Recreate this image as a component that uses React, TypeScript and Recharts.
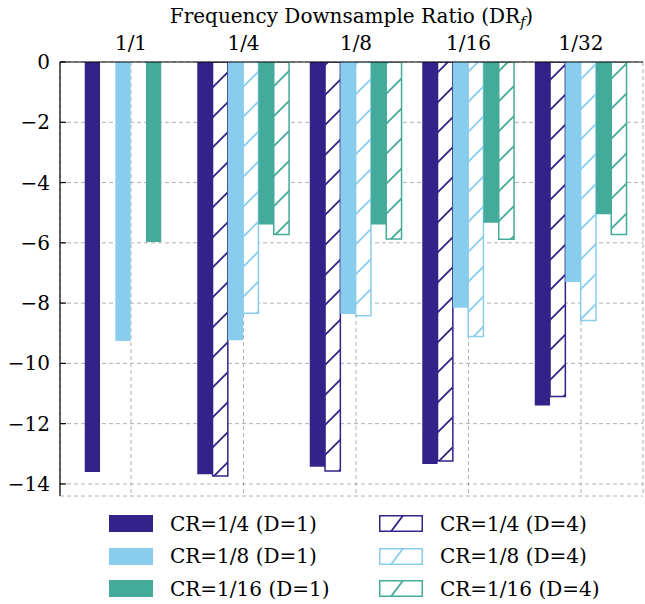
import { BarChart, Bar, XAxis, YAxis, CartesianGrid } from 'recharts'

const categories = ['1/1', '1/4', '1/8', '1/16', '1/32']

// values (negative, bars hang from 0)
const cr4D1 = [-13.6, -13.68, -13.43, -13.34, -11.4]
const cr4D4 = [null, -13.74, -13.57, -13.24, -11.1]
const cr8D1 = [-9.26, -9.23, -8.36, -8.15, -7.3]
const cr8D4 = [null, -8.34, -8.42, -9.11, -8.58]
const cr16D1 = [-5.97, -5.39, -5.39, -5.33, -5.05]
const cr16D4 = [null, -5.72, -5.87, -5.88, -5.72]

const yTicks = [0, -2, -4, -6, -8, -10, -12, -14]
const yMinorTicks = [
  0, -0.5, -1, -1.5, -2, -2.5, -3, -3.5, -4, -4.5, -5, -5.5, -6, -6.5, -7, -7.5,
  -8, -8.5, -9, -9.5, -10, -10.5, -11, -11.5, -12, -12.5, -13, -13.5, -14,
]

const series = [
  { key: 'cr4d1', name: 'CR=1/4 (D=1)', color: '#332288', hatched: false, values: cr4D1 },
  { key: 'cr4d4', name: 'CR=1/4 (D=4)', color: '#332288', hatched: true, values: cr4D4 },
  { key: 'cr8d1', name: 'CR=1/8 (D=1)', color: '#88CCEE', hatched: false, values: cr8D1 },
  { key: 'cr8d4', name: 'CR=1/8 (D=4)', color: '#88CCEE', hatched: true, values: cr8D4 },
  { key: 'cr16d1', name: 'CR=1/16 (D=1)', color: '#44AA99', hatched: false, values: cr16D1 },
  { key: 'cr16d4', name: 'CR=1/16 (D=4)', color: '#44AA99', hatched: true, values: cr16D4 },
]

const data = categories.map((category, i) => {
  const row: Record<string, string | number | null> = { category }
  series.forEach((s) => {
    row[s.key] = s.values[i]
  })
  return row
})

const FONT = '"DejaVu Serif", serif'
const FS = 20

const fmt = (v: number) => (v === 0 ? '0' : `\u2212${Math.abs(v)}`)

const TitleLabel = (props: any) => {
  const vb = props.viewBox || {}
  const cx = vb.x + vb.width / 2
  return (
    <text x={cx} y={23} textAnchor="middle" fontFamily={FONT} fontSize={FS} fill="#000">
      Frequency Downsample Ratio (DR
      <tspan fontStyle="italic" fontSize={14} dy={4}>f</tspan>
      <tspan dy={-4}>)</tspan>
    </text>
  )
}

function LegendSwatch({ color, hatched }: { color: string; hatched: boolean }) {
  return (
    <svg width={44} height={17} style={{ display: 'block', flex: 'none' }}>
      {hatched ? (
        <g>
          <rect x={0.75} y={0.75} width={42.5} height={15.5} fill="#fff" stroke={color} strokeWidth={1.5} />
          <line x1={12} y1={16.5} x2={24} y2={0.5} stroke={color} strokeWidth={1.8} />
        </g>
      ) : (
        <rect x={0} y={0} width={44} height={17} fill={color} />
      )}
    </svg>
  )
}

export default function App() {
  return (
    <div style={{ position: 'absolute', left: 0, top: 0, width: 645, height: 604, overflow: 'hidden', background: '#fff' }}>
      <BarChart
        width={645}
        height={500}
        data={data}
        margin={{ top: 0, right: 2, bottom: 4, left: 0 }}
        barGap={0}
        barSize={15.3}
      >
        <defs>
          {series
            .filter((s) => s.hatched)
            .map((s) => (
              <pattern key={s.key} id={`hatch-${s.key}`} patternUnits="userSpaceOnUse" width={30} height={30}>
                <rect width={30} height={30} fill="#fff" />
                <path d="M-5,5 L5,-5 M0,30 L30,0 M25,35 L35,25" stroke={s.color} strokeWidth={1.8} />
              </pattern>
            ))}
        </defs>
        <CartesianGrid xAxisId="top" yAxisId="main" stroke="#b0b0b0" strokeDasharray="4 3" />
        <XAxis
          xAxisId="top"
          orientation="top"
          dataKey="category"
          height={62}
          padding={{ left: 14.75, right: 5.75 }}
          tickLine={false}
          tickSize={0}
          tickMargin={12}
          axisLine={{ stroke: '#000', strokeWidth: 1.2 }}
          tick={{ fill: '#000', fontSize: FS, fontFamily: FONT }}
          interval={0}
          label={<TitleLabel />}
        />
        <XAxis
          xAxisId="bottom"
          orientation="bottom"
          dataKey="category"
          height={0}
          padding={{ left: 14.75, right: 5.75 }}
          tick={false}
          tickLine={false}
          axisLine={{ stroke: '#000', strokeWidth: 1.2 }}
        />
        <YAxis
          yAxisId="main"
          width={60}
          domain={[-14.4, 0]}
          ticks={yTicks}
          tickFormatter={fmt}
          tickSize={-6}
          tickMargin={16}
          tickLine={{ stroke: '#000', strokeWidth: 1.2 }}
          axisLine={{ stroke: '#000', strokeWidth: 1.2 }}
          tick={{ fill: '#000', fontSize: FS, fontFamily: FONT }}
          allowDataOverflow
        />
        <YAxis
          yAxisId="minor"
          width={0}
          domain={[-14.4, 0]}
          ticks={yMinorTicks}
          tick={false}
          tickSize={-3.5}
          tickLine={{ stroke: '#000', strokeWidth: 1 }}
          axisLine={false}
          allowDataOverflow
        />
        {series.map((s) => (
          <Bar
            key={s.key}
            xAxisId="top"
            yAxisId="main"
            dataKey={s.key}
            name={s.name}
            fill={s.hatched ? `url(#hatch-${s.key})` : s.color}
            stroke={s.hatched ? s.color : 'none'}
            strokeWidth={s.hatched ? 1.5 : 0}
            isAnimationActive={false}
          />
        ))}
      </BarChart>
      <div
        style={{
          position: 'absolute',
          left: 109,
          top: 515,
          display: 'grid',
          gridTemplateColumns: '270px 230px',
          rowGap: 15.5,
          fontFamily: FONT,
          fontSize: FS,
          color: '#000',
        }}
      >
        {[0, 2, 4].map((r) =>
          [series[r], series[r + 1]].map((s) => (
            <div key={s.key} style={{ display: 'flex', alignItems: 'center', height: 17 }}>
              <LegendSwatch color={s.color} hatched={s.hatched} />
              <span style={{ marginLeft: 17, whiteSpace: 'nowrap' }}>{s.name}</span>
            </div>
          ))
        )}
      </div>
    </div>
  )
}
